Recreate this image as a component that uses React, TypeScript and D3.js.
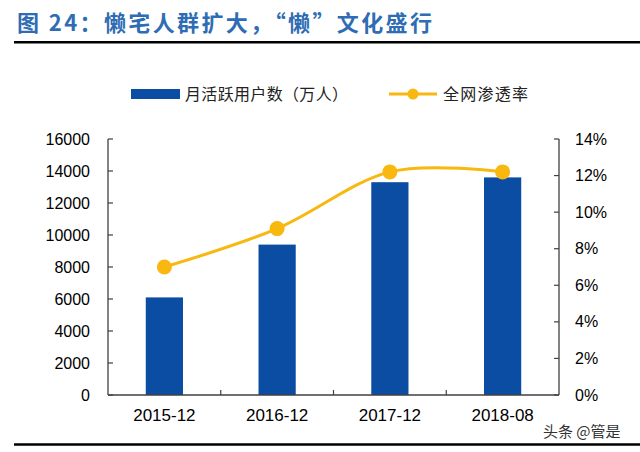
import React from "react";
import * as d3 from "d3";

const categories = ["2015-12", "2016-12", "2017-12", "2018-08"];
const users = [6100, 9400, 13300, 13600];
const rate = [7.0, 9.1, 12.2, 12.2];
const leftTicks = [0, 2000, 4000, 6000, 8000, 10000, 12000, 14000, 16000];
const rightTicks = [0, 2, 4, 6, 8, 10, 12, 14];

const BLUE = "#0B4DA2";
const GOLD = "#F8B810";
const AXIS = "#404040";
const FONT = "Arial, 'Liberation Sans', sans-serif";
const CJK = "'Noto Sans CJK SC', sans-serif";

export default function App() {
  const W = 640, H = 452;
  const x0 = 108, x1 = 559, yTop = 139, yBot = 395;
  const x = d3.scaleBand<string>().domain(categories).range([x0, x1]).padding(0);
  const yL = d3.scaleLinear().domain([0, 16000]).range([yBot, yTop]);
  const yR = d3.scaleLinear().domain([0, 14]).range([yBot, yTop]);
  const bw = x.bandwidth() * 0.33;
  const cx = (c: string) => (x(c) as number) + x.bandwidth() / 2;
  const line = d3
    .line<number>()
    .x((_, i) => cx(categories[i]))
    .y((d) => yR(d))
    .curve(d3.curveCardinal.tension(0));
  const boundaries = categories.slice(1).map((c) => x(c) as number);

  return (
    <svg width={W} height={H} style={{ position: "absolute", left: 0, top: 0, background: "#fff" }}>
      <rect x={0} y={0} width={W} height={H} fill="#fff" />
      <text x={17} y={31} fontFamily={CJK} fontWeight="bold" fontSize={22} fill="#2E6DB4" textLength={415} lengthAdjust="spacing">
        图 24：懒宅人群扩大，“懒”文化盛行
      </text>
      <line x1={14} x2={640} y1={42.3} y2={42.3} stroke="#000" strokeWidth={2.6} />

      {/* legend */}
      <rect x={131} y={89} width={49} height={10} fill={BLUE} />
      <text x={185} y={100} fontFamily={CJK} fontSize={16} fill="#222" textLength={163} lengthAdjust="spacing">月活跃用户数（万人）</text>
      <line x1={389} x2={437} y1={94} y2={94} stroke={GOLD} strokeWidth={3} />
      <circle cx={413} cy={94} r={5.5} fill={GOLD} />
      <text x={443} y={100} fontFamily={CJK} fontSize={16} fill="#222" textLength={85} lengthAdjust="spacing">全网渗透率</text>

      {/* bars */}
      {users.map((v, i) => (
        <rect key={i} x={cx(categories[i]) - bw / 2} y={yL(v)} width={bw} height={yBot - yL(v)} fill={BLUE} />
      ))}

      {/* axes */}
      <line x1={x0} x2={x0} y1={yTop} y2={yBot} stroke={AXIS} strokeWidth={1.3} />
      <line x1={x1} x2={x1} y1={yTop} y2={yBot} stroke={AXIS} strokeWidth={1.3} />
      <line x1={x0} x2={x1} y1={yBot} y2={yBot} stroke={AXIS} strokeWidth={1.3} />
      {leftTicks.map((t) => (
        <g key={t}>
          <line x1={x0} x2={x0 + 5} y1={yL(t)} y2={yL(t)} stroke={AXIS} strokeWidth={1.2} />
          <text x={90} y={yL(t) + 5.5} textAnchor="end" fontFamily={FONT} fontSize={16} fill="#000">{t}</text>
        </g>
      ))}
      {rightTicks.map((t) => (
        <g key={t}>
          <line x1={x1 - 5} x2={x1} y1={yR(t)} y2={yR(t)} stroke={AXIS} strokeWidth={1.2} />
          <text x={575} y={yR(t) + 5.5} fontFamily={FONT} fontSize={16} fill="#000">{t}%</text>
        </g>
      ))}
      {boundaries.map((b, i) => (
        <line key={i} x1={b} x2={b} y1={yBot - 5} y2={yBot} stroke={AXIS} strokeWidth={1.2} />
      ))}
      {categories.map((c) => (
        <text key={c} x={cx(c)} y={421} textAnchor="middle" fontFamily={FONT} fontSize={17} fill="#000">{c}</text>
      ))}

      {/* line */}
      <path d={line(rate) || ""} fill="none" stroke={GOLD} strokeWidth={3} />
      {rate.map((v, i) => (
        <circle key={i} cx={cx(categories[i])} cy={yR(v)} r={7.5} fill={GOLD} />
      ))}

      <text x={543} y={437} fontFamily={CJK} fontSize={15} fill="#333">头条 @管是</text>
      <line x1={14} x2={640} y1={444.5} y2={444.5} stroke="#000" strokeWidth={2.6} />
    </svg>
  );
}
